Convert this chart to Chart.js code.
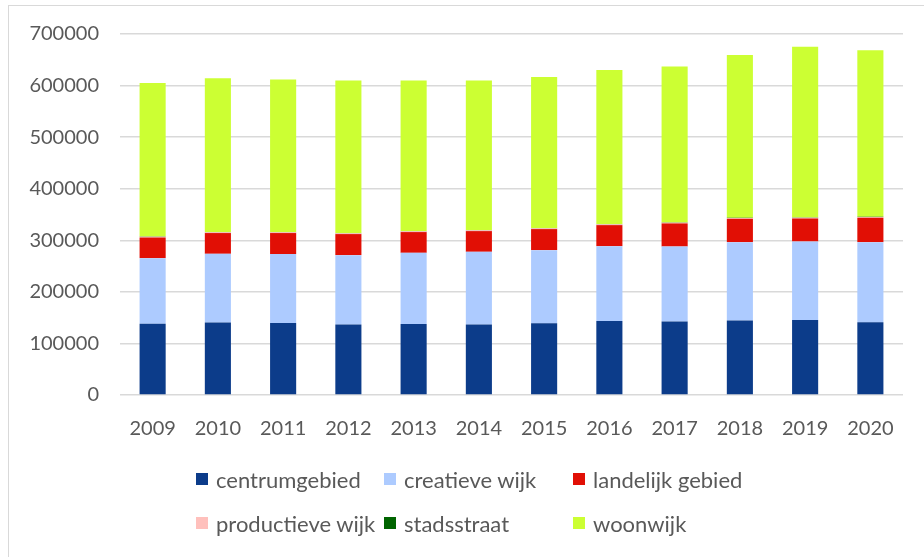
<!DOCTYPE html>
<html lang="nl">
<head>
<meta charset="utf-8">
<title>Woningvoorraad per gebiedstype</title>
<script src="https://cdn.jsdelivr.net/npm/chart.js@4/dist/chart.umd.min.js"></script>
<style>
  html, body { margin: 0; padding: 0; background: #fff; }
  .frame {
    position: absolute; left: 8px; top: 5px; width: 916px; height: 552px;
    border-top: 1px solid #d9d9d9; border-left: 1px solid #d9d9d9;
  }
  #wrap { position: absolute; left: 0; top: 0; width: 924px; height: 557px; }
  .legend { position: absolute; left: 0; top: 0; font-family: Lato, sans-serif; font-size: 22px; color: #595959; }
  .legend-item { position: absolute; display: flex; align-items: center; white-space: nowrap; }
  .legend-item span.box { display: inline-block; width: 12px; height: 12px; margin-right: 8px; }
</style>
</head>
<body>
<div class="frame"></div>
<div id="wrap"><canvas id="chart" width="924" height="557"></canvas></div>
<div class="legend" id="legend"></div>
<script>
// jaren
const jaren = ["2009", "2010", "2011", "2012", "2013", "2014", "2015", "2016", "2017", "2018", "2019", "2020"];

const centrumgebied = [138000, 140400, 139800, 136600, 137900, 136600, 139100, 143700, 142400, 144300, 145600, 141100];
const creatieveWijk = [127400, 133400, 133400, 134600, 137800, 141100, 141800, 144900, 145600, 152100, 152100, 155300];
const landelijkGebied = [40000, 40200, 40800, 40800, 40200, 40100, 40800, 40800, 44700, 45300, 44600, 47300];
const productieveWijk = [1500, 1500, 1500, 1500, 1500, 1500, 1500, 1500, 1500, 1500, 1500, 1500];
const stadsstraat = [500, 500, 500, 500, 500, 500, 500, 500, 500, 500, 500, 500];
const woonwijk = [297800, 298200, 295600, 295700, 291800, 289900, 293100, 299000, 302200, 315800, 330800, 322800];

const series = [
  { label: "centrumgebied", data: centrumgebied, color: "#0c3c8a" },
  { label: "creatieve wijk", data: creatieveWijk, color: "#adcbff" },
  { label: "landelijk gebied", data: landelijkGebied, color: "#e10f05" },
  { label: "productieve wijk", data: productieveWijk, color: "#ffc0bc" },
  { label: "stadsstraat", data: stadsstraat, color: "#006400" },
  { label: "woonwijk", data: woonwijk, color: "#ccff33" }
];

const textColor = "#595959";
const fontFamily = "Lato, sans-serif";

const chart = new Chart(document.getElementById("chart"), {
  type: "bar",
  data: {
    labels: jaren,
    datasets: series.map(s => ({
      label: s.label,
      data: s.data,
      backgroundColor: s.color,
      borderWidth: 0,
      categoryPercentage: 1,
      barPercentage: 0.4
    }))
  },
  options: {
    responsive: false,
    animation: false,
    layout: { padding: { left: 8, right: 21, top: 34, bottom: 100 } },
    plugins: {
      legend: { display: false },
      tooltip: { enabled: false }
    },
    scales: {
      x: {
        stacked: true,
        grid: { display: false, drawTicks: false },
        border: { display: false },
        ticks: { color: textColor, font: { family: fontFamily, size: 20 }, padding: 22 },
        afterFit: scale => { scale.height = 62; }
      },
      y: {
        stacked: true,
        min: 0,
        max: 700000,
        grid: { color: "#d9d9d9", lineWidth: 1.5, drawTicks: false },
        border: { display: false },
        ticks: {
          stepSize: 100000,
          color: textColor,
          font: { family: fontFamily, size: 20 },
          padding: 21,
          callback: v => String(v)
        },
        afterFit: scale => { scale.width = 112; }
      }
    }
  }
});

// legenda in drie kolommen, zoals in het origineel
function renderLegend() {
  const legend = document.getElementById("legend");
  const kolommen = [196, 384, 573];
  const rijen = [479, 523];
  legend.innerHTML = "";
  series.forEach((s, i) => {
    const item = document.createElement("div");
    item.className = "legend-item";
    item.style.left = kolommen[i % 3] + "px";
    item.style.top = (rijen[Math.floor(i / 3)] - 15) + "px";
    item.style.height = "30px";
    item.innerHTML = `<span class="box" style="background:${s.color}"></span>${s.label}`;
    legend.appendChild(item);
  });
}

renderLegend();
</script>
</body>
</html>
